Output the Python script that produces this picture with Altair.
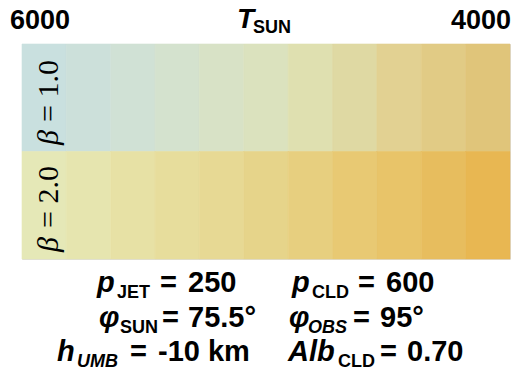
import altair as alt
import pandas as pd

# ---- data ----
T_values = [6000, 5800, 5600, 5400, 5200, 5000, 4800, 4600, 4400, 4200, 4000]
beta_values = ["1.0", "2.0"]
colors_beta1 = ["#c9e0df", "#cce0da", "#d0e1d5", "#d4e2ce", "#d8e2c6", "#dbe2be",
                "#dfe0b0", "#dfd9a3", "#e2d192", "#e1cb85", "#e0c57a"]
colors_beta2 = ["#e5e8b7", "#e6e5af", "#e7e1a5", "#e7dd9c", "#e7d994", "#e6d48a",
                "#e7cf7f", "#e8c973", "#e8c469", "#e7bd5e", "#e8b752"]
tick_labels = ["6000", "4000"]

rows = []
for b, cols in zip(beta_values, [colors_beta1, colors_beta2]):
    for t, c in zip(T_values, cols):
        rows.append({"T": t, "beta": b, "color": c})
df = pd.DataFrame(rows)

W, H = 488, 215
OX, OY = 22, 44  # plot origin on the page

SANS = "Liberation Sans, Arial, Helvetica, sans-serif"
SERIF = "Liberation Serif, Times New Roman, serif"

heat = alt.Chart(df).mark_rect(strokeWidth=0.6).encode(
    x=alt.X("T:O", sort=T_values, axis=None,
            scale=alt.Scale(paddingInner=0, paddingOuter=0)),
    y=alt.Y("beta:O", sort=beta_values, axis=None,
            scale=alt.Scale(paddingInner=0, paddingOuter=0)),
    color=alt.Color("color:N", scale=None),
    stroke=alt.Stroke("color:N", scale=None),
)


def txt(pieces, size, italic=False, font=SANS, bold=True, align="left", angle=0):
    d = pd.DataFrame([{"text": t, "x": x - OX, "y": y - OY} for t, x, y in pieces])
    kw = dict(fontSize=size, font=font, align=align, baseline="alphabetic",
              color="black", fontWeight="bold" if bold else "normal",
              fontStyle="italic" if italic else "normal")
    if angle:
        kw["angle"] = angle
    return alt.Chart(d).mark_text(**kw).encode(
        x=alt.X("x:Q", scale=None), y=alt.Y("y:Q", scale=None), text="text:N")


MAIN, SUB = 29, 18
L1, L2, L3 = 292, 327, 361
S = 6  # subscript drop

layers = [
    heat,
    # top axis labels
    txt([(tick_labels[0], 10, 29)], 27),
    txt([(tick_labels[1], 511, 29)], 27, align="right"),
    txt([("T", 237, 28)], 28, italic=True),
    txt([("SUN", 253, 33)], 18),
    # beta labels
    txt([("β", 58, 145), ("β", 58, 252)], 30, italic=True, font=SERIF, bold=False, angle=270),
    txt([("= 1.0", 58, 122), ("= 2.0", 58, 228)], 30, font=SERIF, bold=False, angle=270),
    # bottom parameters: italic main symbols
    txt([("p", 97, L1), ("p", 292, L1), ("φ", 99, L2), ("φ", 289, L2),
         ("h", 57, L3), ("Alb", 288, L3)], MAIN, italic=True),
    # upright subscripts
    txt([("JET", 117, L1 + S), ("CLD", 312, L1 + S), ("SUN", 120, L2 + S),
         ("CLD", 338, L3 + S)], SUB),
    # italic subscripts
    txt([("OBS", 308, L2 + S), ("UMB", 77, L3 + S)], SUB, italic=True),
    # equals signs
    txt([("=", 160, L1), ("=", 358, L1), ("=", 162, L2), ("=", 353, L2),
         ("=", 130, L3), ("=", 380, L3)], MAIN),
    # values
    txt([("250", 188, L1), ("600", 386, L1), ("75.5°", 188, L2),
         ("95°", 380, L2), ("-10 km", 158, L3), ("0.70", 407, L3)], MAIN),
]

chart = alt.layer(*layers).resolve_scale(x="independent", y="independent").properties(
    width=W, height=H,
    autosize=alt.AutoSizeParams(type="none"),
    padding={"left": OX - 8, "top": OY - 8, "right": 1, "bottom": 112},
).configure_view(stroke=None).configure(background="white")

chart.save("out.html", embed_options={"renderer": "svg", "actions": False})
